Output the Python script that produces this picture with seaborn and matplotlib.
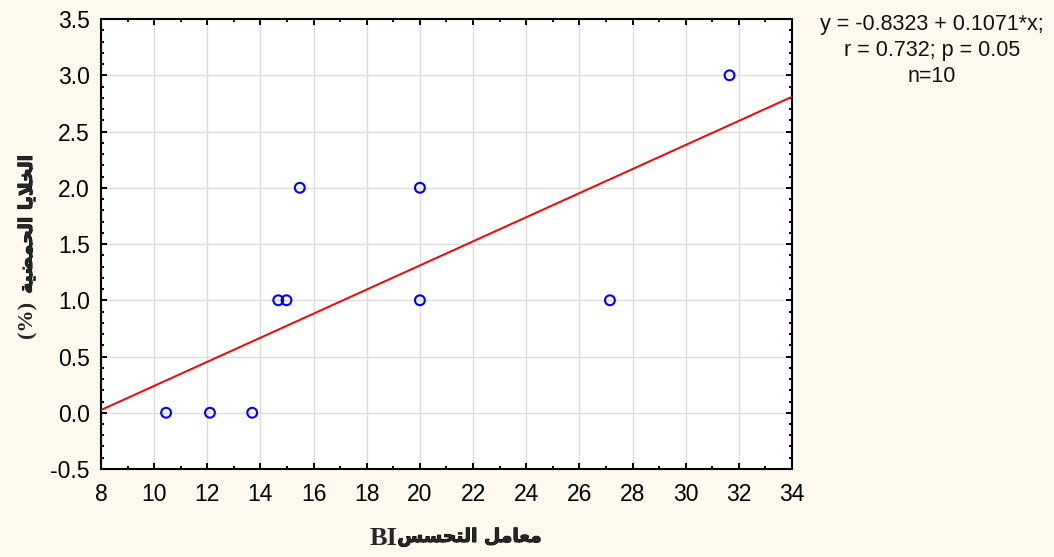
import numpy as np
import pandas as pd
import matplotlib
matplotlib.use("Agg")
import matplotlib.pyplot as plt
import matplotlib.patheffects as pe
from matplotlib.ticker import MultipleLocator, FormatStrFormatter
import seaborn as sns

# Observations: sensitivity index BI vs. acid (eosinophil) cells %
bi_index = [10.45, 12.10, 13.69, 14.67, 14.98, 15.48, 20.0, 20.0, 27.15, 31.65]
acid_cells = [0.0, 0.0, 0.0, 1.0, 1.0, 2.0, 2.0, 1.0, 1.0, 3.0]

# Fitted regression reported on the chart
intercept = -0.8323
slope = 0.1071
r_value = 0.732
p_value = 0.05

x_limits = [8, 34]
y_limits = [-0.5, 3.5]
x_ticks = list(range(8, 35, 2))
y_ticks = [-0.5, 0.0, 0.5, 1.0, 1.5, 2.0, 2.5, 3.0, 3.5]

x_label_ar = "معامل التحسس"
x_label_latin = "BI"
y_label_ar = "الخلايا الحمضية"
y_label_latin = "(%)"

# --- minimal Arabic shaping (contextual forms + lam-alef), matplotlib has no shaper
FORMS = {
    "ا": ("\ufe8d", "\ufe8e", None, None),
    "ة": ("\ufe93", "\ufe94", None, None),
    "ت": ("\ufe95", "\ufe96", "\ufe97", "\ufe98"),
    "ح": ("\ufea1", "\ufea2", "\ufea3", "\ufea4"),
    "خ": ("\ufea5", "\ufea6", "\ufea7", "\ufea8"),
    "س": ("\ufeb1", "\ufeb2", "\ufeb3", "\ufeb4"),
    "ض": ("\ufebd", "\ufebe", "\ufebf", "\ufec0"),
    "ع": ("\ufec9", "\ufeca", "\ufecb", "\ufecc"),
    "ل": ("\ufedd", "\ufede", "\ufedf", "\ufee0"),
    "م": ("\ufee1", "\ufee2", "\ufee3", "\ufee4"),
    "ي": ("\ufef1", "\ufef2", "\ufef3", "\ufef4"),
}


def shape_arabic(text):
    out = []
    chars = list(text)
    n = len(chars)
    prev_joins = False
    i = 0
    while i < n:
        c = chars[i]
        if c not in FORMS:
            out.append(c)
            prev_joins = False
            i += 1
            continue
        if c == "ل" and i + 1 < n and chars[i + 1] == "ا":
            out.append("\ufefc" if prev_joins else "\ufefb")
            prev_joins = False
            i += 2
            continue
        nxt = chars[i + 1] if i + 1 < n else ""
        dual = FORMS[c][2] is not None
        joins_next = dual and nxt in FORMS
        iso, fin, ini, med = FORMS[c]
        if prev_joins and joins_next:
            g = med
        elif prev_joins:
            g = fin
        elif joins_next:
            g = ini
        else:
            g = iso
        out.append(g)
        prev_joins = joins_next
        i += 1
    # visual (left-to-right) order
    return "".join(out)[::-1]


BG = "#fdf9ef"
sns.set_style("white")
plt.rcParams["font.family"] = ["Liberation Sans", "DejaVu Sans"]
plt.rcParams["axes.unicode_minus"] = False

fig = plt.figure(figsize=(10.54, 5.57), dpi=100, facecolor=BG)
ax = fig.add_axes([0.0958, 0.158, 0.6556, 0.8078])
ax.set_facecolor("white")

df = pd.DataFrame({"BI": bi_index, "acid": acid_cells})

# regression line across the whole x range
line_x = np.array(x_limits, dtype=float)
line_df = pd.DataFrame({"x": line_x, "y": intercept + slope * line_x})
sns.lineplot(data=line_df, x="x", y="y", color="#ff0000", linewidth=1.4, ax=ax, zorder=3)

sns.scatterplot(data=df, x="BI", y="acid", marker="o", s=50,
                facecolors="none", edgecolor="#0000ff", linewidth=1.5,
                ax=ax, zorder=4, clip_on=False)

ax.set_xlim(*x_limits)
ax.set_ylim(*y_limits)
ax.set_xticks(x_ticks)
ax.set_yticks(y_ticks)
ax.yaxis.set_major_formatter(FormatStrFormatter("%.1f"))
ax.xaxis.set_minor_locator(MultipleLocator(1))
ax.yaxis.set_minor_locator(MultipleLocator(0.1))

ax.grid(True, which="major", color="#dcdcdc", linewidth=1.0, zorder=0)
ax.set_axisbelow(True)

for sp in ax.spines.values():
    sp.set_visible(True)
    sp.set_color("black")
    sp.set_linewidth(1.5)

ax.tick_params(which="both", direction="in", top=True, right=True,
               bottom=True, left=True, color="black", width=1.4)
ax.tick_params(which="major", length=4, labelsize=16.5, labelcolor="black")
ax.tick_params(which="minor", length=2.5)
ax.tick_params(axis="x", which="major", pad=10)
ax.tick_params(axis="y", which="major", pad=8)

# axis titles: Arabic part via the axis label, Latin part attached beside it
heavy = [pe.withStroke(linewidth=0.7, foreground="black")]
ar_font = dict(family=["DejaVu Sans"], weight="bold", size=13.5)
lat_font = dict(family=["Liberation Serif", "DejaVu Serif"], weight="bold")

ax.set_xlabel(shape_arabic(x_label_ar), **ar_font)
ax.xaxis.label.set_path_effects(heavy)
ax.xaxis.set_label_coords(0.534, -0.13)
ax.annotate(x_label_latin, xy=(0, 0.5), xycoords=ax.xaxis.label,
            xytext=(0, -1), textcoords="offset points",
            ha="right", va="center", fontsize=19, **lat_font)

ax.set_ylabel(shape_arabic(y_label_ar), **ar_font)
ax.yaxis.label.set_path_effects(heavy)
ax.yaxis.set_label_coords(-0.094, 0.545)
ax.annotate(y_label_latin, xy=(0.5, 0), xycoords=ax.yaxis.label,
            xytext=(1, -5), textcoords="offset points", rotation=90,
            ha="center", va="top", fontsize=16, **lat_font)

fig.text(0.884, 0.975,
         f"y = {intercept:.4f} + {slope:.4f}*x;\n"
         f"r = {r_value:.3f}; p = {p_value:.2f}\nn={len(bi_index)}",
         ha="center", va="top", multialignment="center",
         fontsize=15.5, color="#111111", linespacing=1.3)

fig.savefig("out.png", dpi=100, facecolor=BG)
